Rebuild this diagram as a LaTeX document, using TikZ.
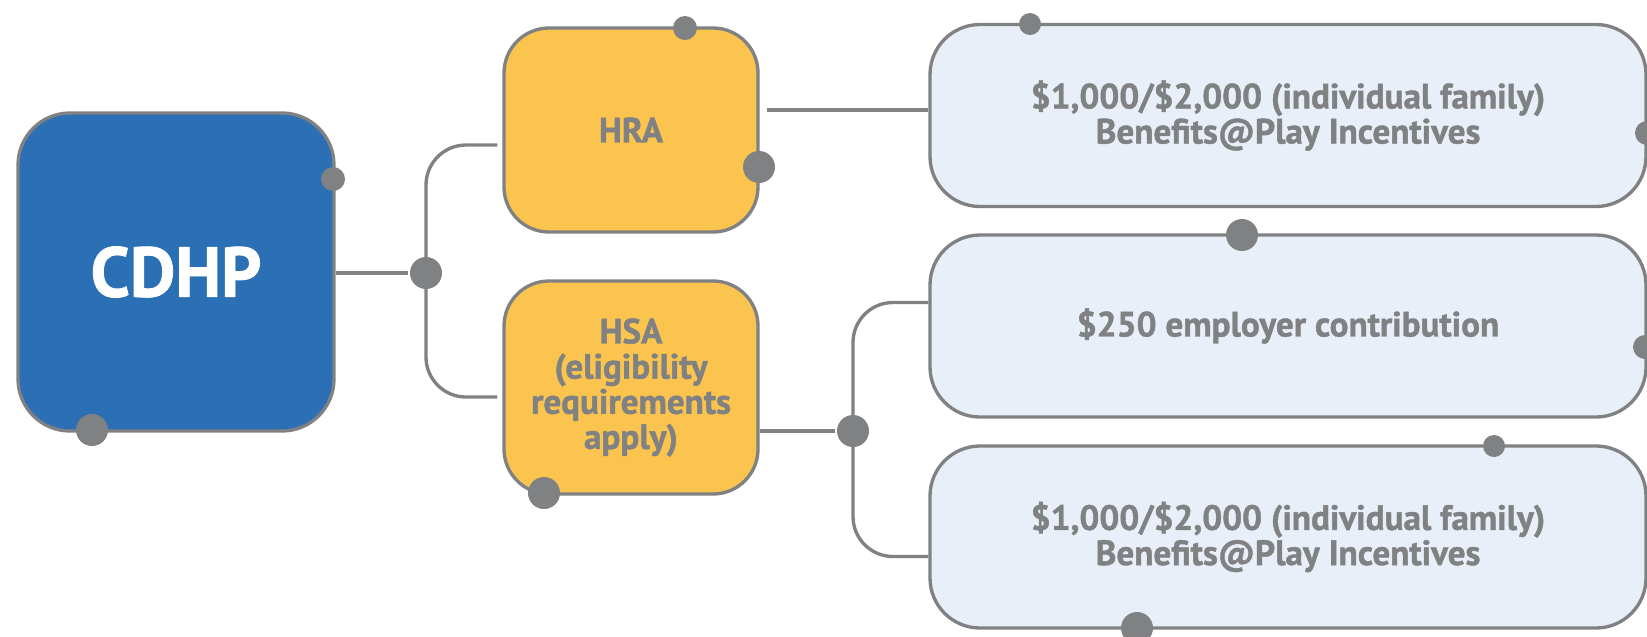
\documentclass[tikz,border=0pt]{standalone}
\usepackage{fontspec}
\setmainfont{PT Sans}[BoldFeatures={FakeBold=1.2}]
\definecolor{cdblue}{RGB}{43,111,181}
\definecolor{cdgold}{RGB}{251,196,78}
\definecolor{cdpale}{RGB}{232,239,248}
\definecolor{cdgray}{RGB}{128,129,131}

\begin{document}
\begin{tikzpicture}[line width=1.9pt,
    box/.style={draw=cdgray, align=center, text=cdgray, inner sep=0pt,
      font=\bfseries\fontsize{20}{20}\selectfont},
    plan/.style={box, fill=cdgold, minimum width=5.08cm, rounded corners=.9cm},
    amt/.style={box, fill=cdpale, minimum width=14.32cm, minimum height=3.64cm, rounded corners=1cm},
    jdot/.style={circle, fill=cdgray, inner sep=0pt, minimum size=.64cm},
    wire/.style={draw=cdgray, rounded corners=.8cm}]
      \useasboundingbox (0,0) rectangle (32.94,-12.72);
      \node[box, fill=cdblue, text=white, minimum width=6.32cm, minimum height=6.36cm,
        rounded corners=1.04cm, font=\bfseries\fontsize{40}{40}\selectfont] (cdhp) at (3.52,-5.44) {CDHP};
      \node[plan, minimum height=4.08cm] (hra) at (12.62,-2.6) {HRA};
      \node[plan, minimum height=4.26cm] (hsa) at (12.62,-7.75) {HSA\\(eligibility\\requirements\\apply)};
      \node[amt] (hrafund) at (25.76,-2.31) {\$1,000/\$2,000 (individual family)\\Benefits@Play Incentives};
      \node[amt] (hsaemp) at (25.76,-6.52) {\$250 employer contribution};
      \node[amt] (hsafund) at (25.76,-10.74) {\$1,000/\$2,000 (individual family)\\Benefits@Play Incentives};
      \node[jdot] (j1) at (8.52,-5.46) {};
      \node[jdot] (j2) at (17.06,-8.62) {};
      \coordinate (hraout) at ([shift={(.14,.4)}]hra.east);

      \draw[wire] (cdhp.east |- j1) -- (j1);
      \draw[wire] (j1.center) |- ([shift={(-.1,-.3)}]hra.west);
      \draw[wire] (j1.center) |- ([shift={(-.1,-.19)}]hsa.west);
      \draw[wire] (hraout) -- (hraout -| hrafund.west);
      \draw[wire] (hsa.east |- j2) -- (j2);
      \draw[wire] (j2.center) |- ([yshift=.47cm]hsaemp.west);
      \draw[wire] (j2.center) |- ([yshift=-.39cm]hsafund.west);

      \fill[cdgray] (6.66,-3.58) circle (.24);
      \fill[cdgray] (1.84,-8.6) circle (.32);
      \fill[cdgray] (13.7,-.56) circle (.24);
      \fill[cdgray] (15.18,-3.34) circle (.32);
      \fill[cdgray] (10.88,-9.86) circle (.32);
      \fill[cdgray] (20.6,-.48) circle (.22);
      \fill[cdgray] (32.94,-2.66) circle (.24);
      \fill[cdgray] (24.84,-4.7) circle (.32);
      \fill[cdgray] (32.9,-6.94) circle (.24);
      \fill[cdgray] (29.88,-8.92) circle (.22);
      \fill[cdgray] (22.74,-12.56) circle (.32);
\end{tikzpicture}
\end{document}
